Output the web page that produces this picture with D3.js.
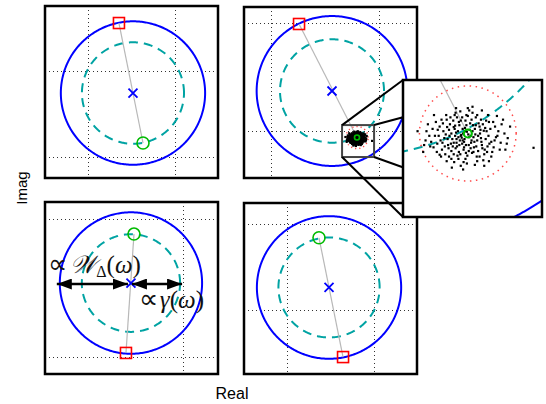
<!DOCTYPE html>
<html><head><meta charset="utf-8">
<script src="https://cdn.jsdelivr.net/npm/d3@7"></script>
<style>body{margin:0;background:#fff;}svg{display:block;}</style>
</head><body>
<script>
// ---------------- data ----------------
const xDomains = [[-1.5, 0.5], [-1.25, 0.35], [-1.0, 0.25], [-1.5, 0.5]];
const yDomains = [[-1.25, 0.75], [-1.44, 0.15], [-1.125, 0.125], [-1.75, 0.25]];
const xTicks = [[-1, 0], [-1, 0], [-1, 0], [-1, 0]];
const yTicks = [[-1, 0], [-1, 0], [-1, 0], [-1, 0]];
// nominal point (blue x)
const nominalRe = [-0.483, -0.436, -0.379, -0.517];
const nominalIm = [-0.262, -0.631, -0.464, -0.738];
// uncertainty weight radius W_Delta (blue circle) and gamma radius (cyan dashed)
const weightRadius = [0.834, 0.697, 0.514, 0.834];
const gammaRadius = [0.590, 0.481, 0.355, 0.585];
// worst-case point on blue circle (red square)
const worstRe = [-0.645, -0.741, -0.415, -0.355];
const worstIm = [0.552, -0.008, -0.972, -1.552];
// point on gamma circle (green circle)
const gammaRe = [-0.367, -0.205, -0.357, -0.633];
const gammaIm = [-0.843, -1.064, -0.108, -0.157];
// zoom region of panel 2
const zoomRe = [-0.343, -0.047];
const zoomIm = [-1.245, -0.948];
const sampleRadius = 0.103;
// perturbation samples around the green point of panel 2 (thousandths)
const samples = [
[-13,-9],[-2,4],[8,-15],[-25,2],[15,10],[-30,-20],[22,-5],[-8,-30],[-40,8],[30,-25],
[-18,18],[5,22],[-50,-10],[40,5],[-35,-38],[12,-40],[-60,15],[50,-18],[-22,-48],[28,30],
[-5,-55],[-45,30],[60,-8],[-70,-5],[20,-60],[-28,40],[45,25],[-55,-35],[35,-45],[0,38],
[-12,-22],[3,-8],[-20,-8],[10,5],[-33,-12],[18,-28],[-6,12],[25,15],[-42,-25],[38,-12],
[-15,28],[-26,-32],[14,-18],[-38,20],[48,10],[-4,-42],[8,30],[-52,5],[55,-30],[-65,-22],
[-10,0],[2,-25],[-28,10],[22,-38],[-48,-45],[32,20],[-75,10],[65,5],[-16,48],[10,45],
[-35,0],[28,-10],[-8,-18],[16,-2],[-24,-20],[6,-32],[-44,14],[42,-28],[-58,-15],[58,15],
[-3,18],[-19,-40],[26,0],[-31,28],[36,-35],[-68,25],[70,-20],[-80,-28],[-2,-65],[20,40],
[-107,5],[140,-31],[-34,-74],[-60,-46],[85,-10],[75,30],[-90,-15],[-85,20],[0,55],[-25,55],
[30,50],[-45,-60],[15,-68],[-15,-70],[50,-50],[80,-35],[-95,-40],[90,15],[-72,40],[62,38],
[-14,-3],[-21,5],[-7,-12],[1,-2],[-17,-15],[4,8],[-27,-5],[12,-8],[-11,10],[-36,-22],
[20,-15],[-23,-28],[7,-20],[-30,14],[34,6],[-9,-35],[17,18],[-47,-2],[44,-5],[-20,-55],
[25,-50],[-40,-50],[-53,22],[52,-40],[-12,35],[-62,-5],[37,12],[-1,-48],[-37,35],[-66,-40],
[68,-35],[-78,-18],[3,50],[-29,-62],[43,40],[-88,5],[78,0],[-5,28],[-15,-5],[6,-5],
[-24,-12],[-4,-25],[13,-30],[-32,-28],[29,-18],[-43,-12],[23,22],[-19,25],[-56,30],[46,-22],
[-9,-62],[33,-58],[-49,-28],[39,28],[-73,-30],[57,-15],[-26,45],[17,35],[-64,8],[63,-5],
[-11,-15],[-27,17],[9,-42],[-39,-5],[27,8],[-16,-45],[41,-40],[-54,-20],[-3,40],[19,-50],
[-35,-55],[72,20],[-82,-5],[-6,5],[-18,-25],[11,18],[-41,-32],[31,-32],[-23,35],[54,25],
[-30,-45],[2,-38],[-57,-50],[45,-60],[-46,40],[83,-22],[-93,-25],[-10,-78],[35,-70],[10,58]
];
const xLabel = "Real";
const yLabel = "Imag";

// ---------------- layout ----------------
const W = 546, H = 404;
const boxes = [
  {l: 45, t: 6, w: 173, h: 172},
  {l: 244, t: 7, w: 173, h: 171},
  {l: 45, t: 202, w: 173, h: 172},
  {l: 244, t: 203, w: 173, h: 171}
];
const insetBox = {l: 403, t: 80, w: 139, h: 137};

const C = {blue: "#0000ff", cyan: "#00a3a3", red: "#ff0000", green: "#00bb00",
           gray: "#b8b8b8", grid: "#333", dots: "#ff4a4a"};

const svg = d3.select("body").append("svg").attr("width", W).attr("height", H);
const defs = svg.append("defs");

function circlePath(xs, ys, cx, cy, r, n) {
  const angs = d3.range(n).map(k => 2 * Math.PI * k / n);
  return d3.line().curve(d3.curveLinearClosed)
    .x(a => xs(cx + r * Math.cos(a))).y(a => ys(cy + r * Math.sin(a)))(angs);
}

const scales = boxes.map((b, i) => ({
  x: d3.scaleLinear().domain(xDomains[i]).range([b.l, b.l + b.w]),
  y: d3.scaleLinear().domain(yDomains[i]).range([b.t + b.h, b.t])
}));

function drawContent(g, xs, ys, i, opt) {
  const cx = nominalRe[i], cy = nominalIm[i];
  g.append("path").attr("d", circlePath(xs, ys, cx, cy, weightRadius[i], opt.n))
    .attr("fill", "none").attr("stroke", C.blue).attr("stroke-width", 2);
  g.append("path").attr("d", circlePath(xs, ys, cx, cy, gammaRadius[i], opt.n))
    .attr("fill", "none").attr("stroke", C.cyan).attr("stroke-width", 2)
    .attr("stroke-dasharray", "9,6");
  g.append("line")
    .attr("x1", xs(worstRe[i])).attr("y1", ys(worstIm[i]))
    .attr("x2", xs(gammaRe[i])).attr("y2", ys(gammaIm[i]))
    .attr("stroke", C.gray).attr("stroke-width", 1.2);
  if (i === 1) {
    g.append("path").attr("d", circlePath(xs, ys, gammaRe[i], gammaIm[i], sampleRadius, 200))
      .attr("fill", "none").attr("stroke", C.dots).attr("stroke-width", 1.5)
      .attr("stroke-dasharray", opt.dots);
    g.append("g").selectAll("rect").data(samples).join("rect")
      .attr("x", d => xs(gammaRe[i] + d[0] / 1000) - 1.1)
      .attr("y", d => ys(gammaIm[i] + d[1] / 1000) - 1.1)
      .attr("width", 2.2).attr("height", 2.2).attr("fill", "#000");
  }
  const px = xs(cx), py = ys(cy), s = 4.5;
  g.append("path").attr("d", `M${px - s},${py - s}L${px + s},${py + s}M${px - s},${py + s}L${px + s},${py - s}`)
    .attr("stroke", C.blue).attr("stroke-width", 1.8).attr("fill", "none");
  const rx = xs(worstRe[i]), ry = ys(worstIm[i]);
  g.append("rect").attr("x", rx - 5.5).attr("y", ry - 5.5).attr("width", 11).attr("height", 11)
    .attr("fill", "none").attr("stroke", C.red).attr("stroke-width", 1.6);
  g.append("circle").attr("cx", xs(gammaRe[i])).attr("cy", ys(gammaIm[i])).attr("r", opt.gr)
    .attr("fill", "none").attr("stroke", C.green).attr("stroke-width", opt.gw);
}

// panels
boxes.forEach((b, i) => {
  const {x, y} = scales[i];
  const cid = "clip" + i;
  defs.append("clipPath").attr("id", cid).append("rect")
    .attr("x", b.l).attr("y", b.t).attr("width", b.w).attr("height", b.h);
  const g = svg.append("g");
  g.append("rect").attr("x", b.l).attr("y", b.t).attr("width", b.w).attr("height", b.h).attr("fill", "#fff");
  const inner = g.append("g").attr("clip-path", `url(#${cid})`);
  xTicks[i].forEach(t => {
    inner.append("line").attr("x1", Math.round(x(t)) + 0.5).attr("x2", Math.round(x(t)) + 0.5)
      .attr("y1", b.t).attr("y2", b.t + b.h)
      .attr("stroke", C.grid).attr("stroke-width", 1).attr("stroke-dasharray", "1,3");
  });
  yTicks[i].forEach(t => {
    inner.append("line").attr("y1", Math.round(y(t)) + 0.5).attr("y2", Math.round(y(t)) + 0.5)
      .attr("x1", b.l).attr("x2", b.l + b.w)
      .attr("stroke", C.grid).attr("stroke-width", 1).attr("stroke-dasharray", "1,3");
  });
  drawContent(inner, x, y, i, {n: 360, gr: i === 1 ? 2.5 : 6, gw: 1.6, dots: "1.2,3"});
  g.append("rect").attr("x", b.l).attr("y", b.t).attr("width", b.w).attr("height", b.h)
    .attr("fill", "none").attr("stroke", "#000").attr("stroke-width", 2.5);
});

// annotation arrows in panel 3
(function () {
  const i = 2, {x, y} = scales[i];
  const m = defs.append("marker").attr("id", "ah").attr("viewBox", "0 0 15 11")
    .attr("refX", 15).attr("refY", 5.5).attr("markerWidth", 15).attr("markerHeight", 11)
    .attr("markerUnits", "userSpaceOnUse").attr("orient", "auto-start-reverse");
  m.append("path").attr("d", "M0,0L15,5.5L0,11Z").attr("fill", "#000");
  const yy = y(nominalIm[i]) + 1;
  svg.append("line").attr("x1", x(nominalRe[i] - weightRadius[i]) - 3).attr("x2", x(nominalRe[i]) - 3)
    .attr("y1", yy).attr("y2", yy).attr("stroke", "#000").attr("stroke-width", 2.5)
    .attr("marker-start", "url(#ah)").attr("marker-end", "url(#ah)");
  svg.append("line").attr("x1", x(nominalRe[i]) + 1).attr("x2", x(nominalRe[i] + gammaRadius[i]) + 2)
    .attr("y1", yy).attr("y2", yy).attr("stroke", "#000").attr("stroke-width", 2.5)
    .attr("marker-start", "url(#ah)").attr("marker-end", "url(#ah)");
  const f = "'Liberation Serif', 'DejaVu Serif', serif";
  const pf = "'DejaVu Sans', sans-serif";
  const t1 = svg.append("text").attr("x", 48).attr("y", 273).attr("font-family", f).attr("font-size", 25).attr("fill", "#111");
  t1.append("tspan").attr("font-family", pf).attr("font-size", 27).text("\u221D");
  t1.append("tspan").attr("font-size", 12).text(" ");
  t1.append("tspan").attr("font-style", "italic").text("\uD835\uDCB2");
  t1.append("tspan").attr("font-size", 16).attr("dy", 4).text("\u0394");
  t1.append("tspan").attr("dy", -4).text("(");
  t1.append("tspan").attr("font-style", "italic").text("\u03C9");
  t1.append("tspan").text(")");
  const t2 = svg.append("text").attr("x", 139).attr("y", 308).attr("font-family", f).attr("font-size", 25).attr("fill", "#111");
  t2.append("tspan").attr("font-family", pf).attr("font-size", 27).text("\u221D");
  t2.append("tspan").attr("font-size", 6).text(" ");
  t2.append("tspan").attr("font-style", "italic").text("\u03B3");
  t2.append("tspan").text("(");
  t2.append("tspan").attr("font-style", "italic").text("\u03C9");
  t2.append("tspan").text(")");
})();

// zoom box, connectors and inset
(function () {
  const i = 1, {x, y} = scales[i];
  const bx0 = x(zoomRe[0]), bx1 = x(zoomRe[1]), by0 = y(zoomIm[1]), by1 = y(zoomIm[0]);
  const ib = insetBox;
  const corners = [[bx0, by0, ib.l, ib.t], [bx1, by0, ib.l + ib.w, ib.t],
                   [bx1, by1, ib.l + ib.w, ib.t + ib.h], [bx0, by1, ib.l, ib.t + ib.h]];
  svg.append("rect").attr("x", bx0).attr("y", by0).attr("width", bx1 - bx0).attr("height", by1 - by0)
    .attr("fill", "none").attr("stroke", "#444").attr("stroke-width", 2);
  corners.forEach(c => svg.append("line").attr("x1", c[0]).attr("y1", c[1]).attr("x2", c[2]).attr("y2", c[3])
    .attr("stroke", "#000").attr("stroke-width", 2));
  const xi = d3.scaleLinear().domain(zoomRe).range([ib.l, ib.l + ib.w]);
  const yi = d3.scaleLinear().domain(zoomIm).range([ib.t + ib.h, ib.t]);
  defs.append("clipPath").attr("id", "clipInset").append("rect")
    .attr("x", ib.l).attr("y", ib.t).attr("width", ib.w).attr("height", ib.h);
  svg.append("rect").attr("x", ib.l).attr("y", ib.t).attr("width", ib.w).attr("height", ib.h).attr("fill", "#fff");
  const g = svg.append("g").attr("clip-path", "url(#clipInset)");
  drawContent(g, xi, yi, i, {n: 1440, gr: 4, gw: 2.2, dots: "1.5,4.5"});
  svg.append("rect").attr("x", ib.l).attr("y", ib.t).attr("width", ib.w).attr("height", ib.h)
    .attr("fill", "none").attr("stroke", "#000").attr("stroke-width", 2.5);
})();

// axis labels
svg.append("text").attr("x", 232).attr("y", 399).attr("text-anchor", "middle")
  .attr("font-family", "'Liberation Sans', Arial, sans-serif").attr("font-size", 16).text(xLabel);
svg.append("text").attr("transform", "translate(27,188) rotate(-90)").attr("text-anchor", "middle")
  .attr("font-family", "'Liberation Sans', Arial, sans-serif").attr("font-size", 15).text(yLabel);
</script>
</body></html>
